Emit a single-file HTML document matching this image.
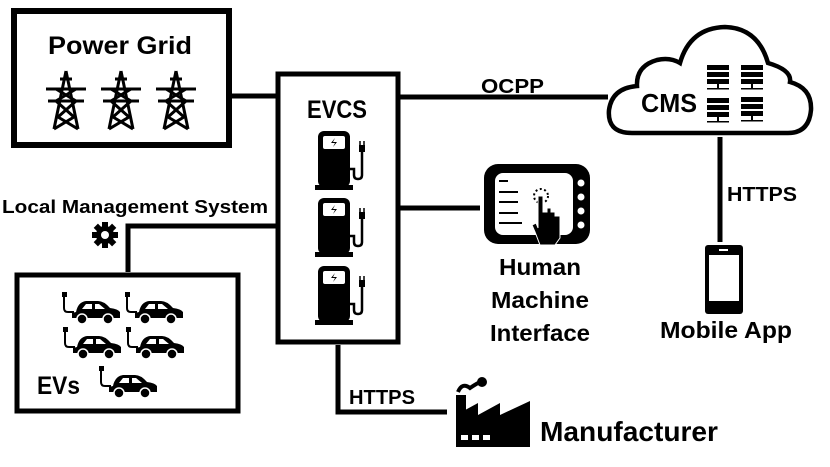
<!DOCTYPE html>
<html><head><meta charset="utf-8"><style>
body{margin:0;background:#fff}
svg{display:block}
text{font-family:"Liberation Sans",sans-serif;font-weight:bold;fill:#000}
</style></head><body>
<svg width="830" height="467" viewBox="0 0 830 467">
<defs>
<g id="tower" fill="none" stroke="#000" stroke-width="3">
<path d="M20 0 L8 58 M20 0 L32 58 M0 18 H40 M2 30 H38 M10 18 L30 30 M30 18 L10 30 M10 30 L28 46 M30 30 L12 46 M12 46 L32 58 M28 46 L8 58 M14 8 H26"/>
</g>
<g id="pump">
<rect x="0" y="0" width="32" height="56" rx="6" fill="#000"/>
<rect x="-3" y="54" width="38" height="5" fill="#000"/>
<rect x="5" y="5" width="22" height="13" rx="2" fill="#fff"/>
<path d="M17 7 L13 12 H17 L15 16 L19 11 H15 Z" fill="#000"/>
<path d="M32 38 H36 V44 Q36 48 40 48 Q44 48 44 44 V20" fill="none" stroke="#000" stroke-width="2.5"/>
<rect x="41" y="14" width="6" height="7" fill="#000"/>
<path d="M42 10 V14 M46 10 V14" stroke="#000" stroke-width="1.5"/>
</g>
<g id="car">
<path d="M8 14 Q10 4 18 3 H30 Q36 3 42 10 Q50 11 52 14 V20 H4 V15 Z" fill="#000"/>
<path d="M14 11 L18 6 H24 V11 Z M27 11 V6 H31 L37 11 Z" fill="#fff"/>
<circle cx="14" cy="21" r="5" fill="#000" stroke="#fff" stroke-width="1.5"/>
<circle cx="40" cy="21" r="5" fill="#000" stroke="#fff" stroke-width="1.5"/>
<path d="M-4 -2 V10 Q-4 14 0 14 H6" fill="none" stroke="#000" stroke-width="2"/>
<rect x="-6" y="-6" width="5" height="5" fill="#000"/>
</g>
<g id="srv" fill="#000">
<rect x="0" y="0" width="22" height="5"/><rect x="0" y="7" width="22" height="5"/><rect x="0" y="14" width="22" height="5"/>
<rect x="10" y="19" width="2" height="4"/><rect x="0" y="23" width="22" height="1.5"/>
</g>
</defs>

<g stroke="#000" stroke-width="5" fill="none">
<path d="M232 96 H276"/>
<path d="M400 97 H608"/>
<path d="M400 208 H480"/>
<path d="M276 226 H128 V272"/>
<path d="M338 345 V412 H447"/>
<path d="M720 137 V242"/>
</g>

<rect x="14" y="11" width="215" height="134" fill="#fff" stroke="#000" stroke-width="6"/>
<text x="120" y="54" font-size="25" text-anchor="middle" textLength="144" lengthAdjust="spacingAndGlyphs">Power Grid</text>
<use href="#tower" x="46" y="71"/>
<use href="#tower" x="101" y="71"/>
<use href="#tower" x="156" y="71"/>

<rect x="278" y="74" width="120" height="268" fill="#fff" stroke="#000" stroke-width="5"/>
<text x="337" y="118" font-size="25" text-anchor="middle" textLength="60" lengthAdjust="spacingAndGlyphs">EVCS</text>
<use href="#pump" x="318" y="131"/>
<use href="#pump" x="318" y="198"/>
<use href="#pump" x="318" y="266"/>

<text x="481" y="93" font-size="20" textLength="63" lengthAdjust="spacingAndGlyphs">OCPP</text>

<text x="2" y="213" font-size="18" textLength="266" lengthAdjust="spacingAndGlyphs">Local Management System</text>
<g transform="translate(105,235)">
<circle r="9" fill="#000"/>
<g fill="#000"><rect x="-3" y="-13" width="6" height="26"/><rect x="-13" y="-3" width="26" height="6"/>
<rect x="-3" y="-13" width="6" height="26" transform="rotate(45)"/><rect x="-3" y="-13" width="6" height="26" transform="rotate(-45)"/></g>
<circle r="4" fill="#fff"/>
</g>

<rect x="17" y="275" width="221" height="136" fill="#fff" stroke="#000" stroke-width="5"/>
<use href="#car" x="68" y="298"/>
<use href="#car" x="131" y="298"/>
<use href="#car" x="69" y="333"/>
<use href="#car" x="132" y="333"/>
<use href="#car" x="105" y="372"/>
<text x="37" y="394" font-size="25" textLength="43" lengthAdjust="spacingAndGlyphs">EVs</text>

<text x="349" y="404" font-size="20" textLength="66" lengthAdjust="spacingAndGlyphs">HTTPS</text>
<g fill="#000">
<rect x="456" y="395" width="10" height="52"/>
<path d="M456 447 V415 L478 403 V415 L500 403 V415 L530 401 V447 Z"/>
<rect x="461" y="435" width="7" height="5" fill="#fff"/><rect x="472" y="435" width="7" height="5" fill="#fff"/><rect x="483" y="435" width="7" height="5" fill="#fff"/>
<path d="M458 392 Q462 382 470 388 Q476 384 480 382" stroke="#000" stroke-width="4" fill="none"/>
<circle cx="482" cy="382" r="5"/>
</g>
<text x="540" y="441" font-size="28" textLength="178" lengthAdjust="spacingAndGlyphs">Manufacturer</text>

<rect x="484" y="164" width="106" height="80" rx="14" fill="#000"/>
<rect x="495" y="173" width="78" height="62" rx="8" fill="#fff"/>
<g fill="#fff"><circle cx="581" cy="183" r="3.5"/><circle cx="581" cy="197" r="3.5"/><circle cx="581" cy="211" r="3.5"/><circle cx="581" cy="225" r="3.5"/></g>
<g stroke="#000" stroke-width="2"><path d="M499 181 H508 M499 192 H518 M499 202 H518 M499 213 H518 M499 223 H522"/></g>
<circle cx="541" cy="196" r="7" fill="none" stroke="#000" stroke-width="2" stroke-dasharray="2 2.5"/>
<path d="M538 196 H543 V212 L547 212 V208 L551 208 V212 L555 212 V216 L560 216 V238 L555 245 H540 L535 232 L532 225 L536 223 L538 228 Z" fill="#000" stroke="#fff" stroke-width="1"/>
<text x="540" y="275" font-size="23" text-anchor="middle" textLength="82" lengthAdjust="spacingAndGlyphs">Human</text>
<text x="540" y="308" font-size="23" text-anchor="middle" textLength="98" lengthAdjust="spacingAndGlyphs">Machine</text>
<text x="540" y="341" font-size="23" text-anchor="middle" textLength="100" lengthAdjust="spacingAndGlyphs">Interface</text>

<path d="M632 133 Q607 133 609 110 Q612 88 637 86 Q636 66 657 60 Q670 57 680 63 Q690 28 725 27 Q758 28 768 63 Q792 70 790 82 Q812 88 811 110 Q809 133 788 133 Z" fill="#fff" stroke="#000" stroke-width="4.5"/>
<text x="641" y="112" font-size="26" textLength="56" lengthAdjust="spacingAndGlyphs">CMS</text>
<use href="#srv" x="707" y="65"/>
<use href="#srv" x="741" y="65"/>
<use href="#srv" x="707" y="98"/>
<use href="#srv" x="741" y="97"/>

<text x="727" y="201" font-size="20" textLength="70" lengthAdjust="spacingAndGlyphs">HTTPS</text>
<rect x="707" y="247" width="34" height="65" rx="3" fill="#fff" stroke="#000" stroke-width="4"/>
<rect x="705" y="245" width="38" height="10" rx="3" fill="#000"/>
<rect x="705" y="301" width="38" height="13" rx="3" fill="#000"/>
<rect x="719" y="249" width="9" height="2" fill="#fff"/>
<text x="726" y="338" font-size="23" text-anchor="middle" textLength="132" lengthAdjust="spacingAndGlyphs">Mobile App</text>
</svg>
</body></html>
